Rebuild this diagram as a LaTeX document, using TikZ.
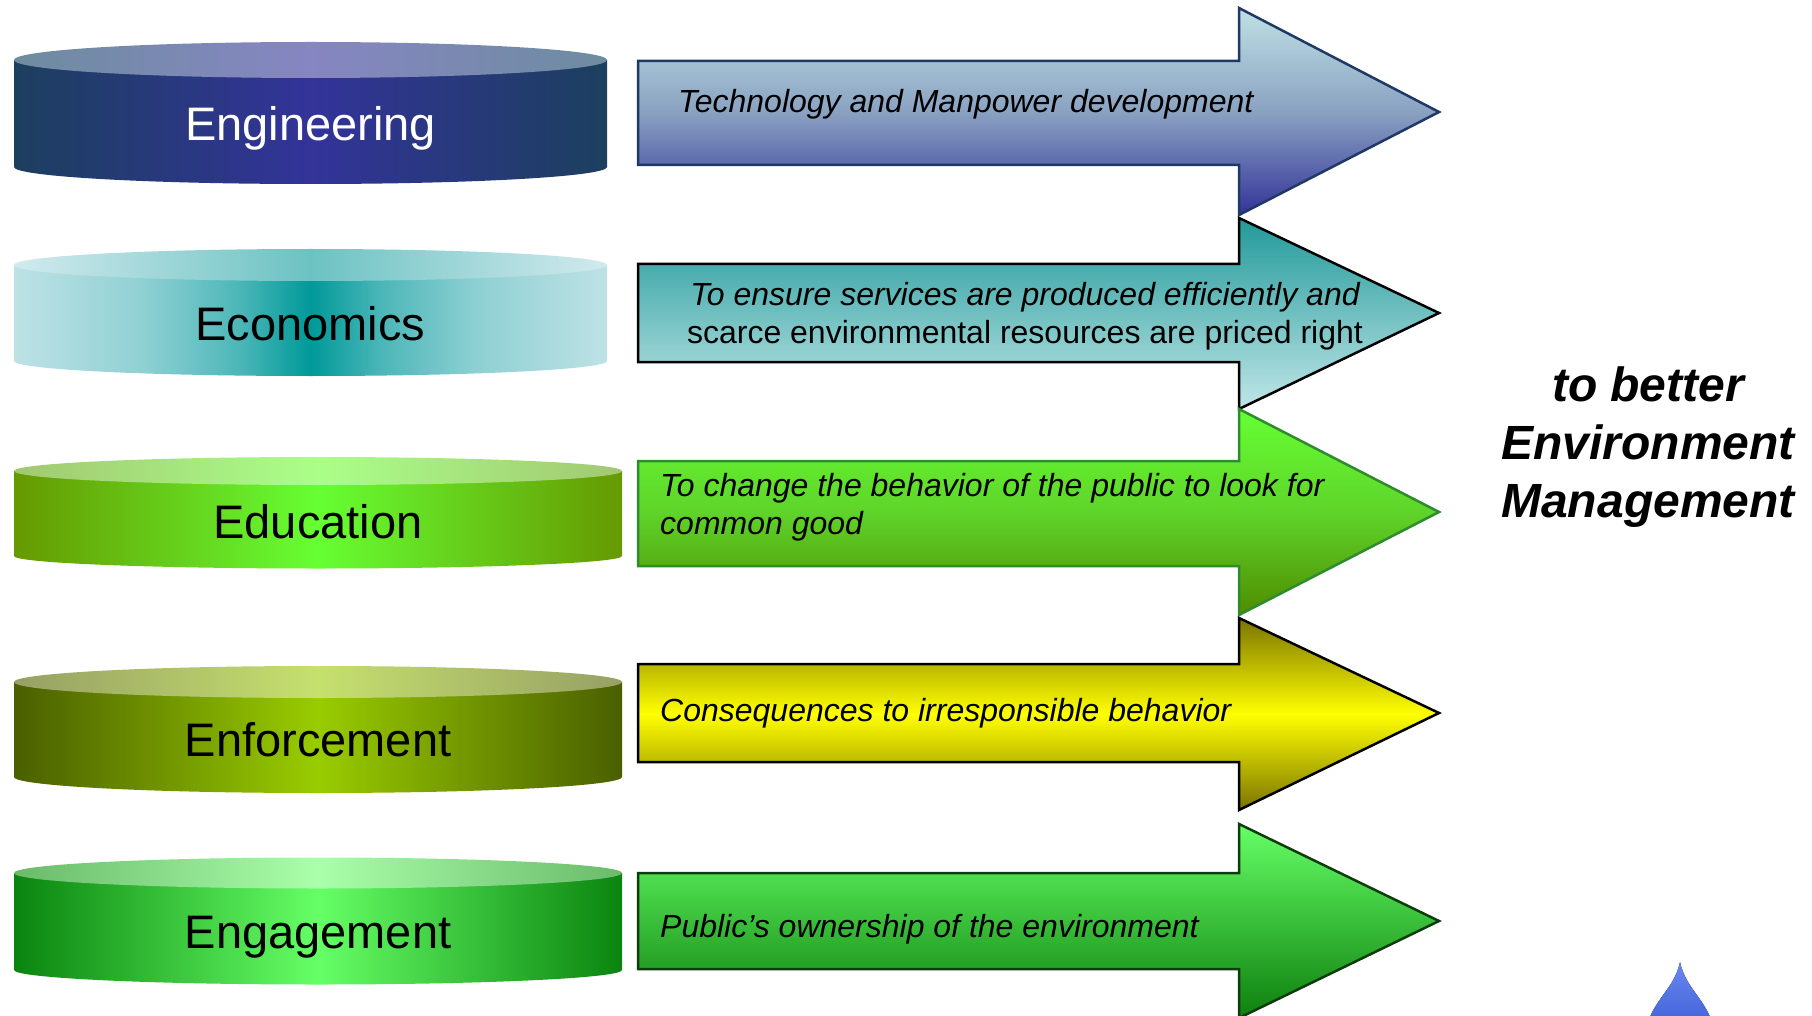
\documentclass[tikz,border=0pt]{standalone}
\usepackage{fontspec}
\setmainfont{Liberation Sans}

% pillar colours: side edge / side middle / lid edge / lid middle
\definecolor{engSideE}{HTML}{1C3F5E}
\definecolor{engSideM}{HTML}{333399}
\definecolor{engTopE}{HTML}{6E8CA0}
\definecolor{engTopM}{HTML}{8686C2}
\definecolor{ecoSideE}{HTML}{BEE2E6}
\definecolor{ecoSideM}{HTML}{009999}
\definecolor{ecoTopE}{HTML}{D2EAEE}
\definecolor{ecoTopM}{HTML}{6CC2C2}
\definecolor{eduSideE}{HTML}{669900}
\definecolor{eduSideM}{HTML}{66FF33}
\definecolor{eduTopE}{HTML}{A2C872}
\definecolor{eduTopM}{HTML}{AAFF88}
\definecolor{enfSideE}{HTML}{4A5F00}
\definecolor{enfSideM}{HTML}{99CC00}
\definecolor{enfTopE}{HTML}{96A064}
\definecolor{enfTopM}{HTML}{C6E06E}
\definecolor{engaSideE}{HTML}{0A840F}
\definecolor{engaSideM}{HTML}{66FF66}
\definecolor{engaTopE}{HTML}{6ABA6A}
\definecolor{engaTopM}{HTML}{AAFFAA}

% arrow colours
\definecolor{arOneTop}{HTML}{BFE1E4}
\definecolor{arOneMid}{HTML}{8AA2C2}
\definecolor{arOneBot}{HTML}{333399}
\definecolor{arOneLine}{HTML}{1F3864}
\definecolor{arTwoTop}{HTML}{229999}
\definecolor{arTwoBot}{HTML}{C0E6E8}
\definecolor{arThreeTop}{HTML}{66FF33}
\definecolor{arThreeMid}{HTML}{5FD42A}
\definecolor{arThreeBot}{HTML}{4F8C00}
\definecolor{arThreeLine}{HTML}{2E8B2E}
\definecolor{arFourEnd}{HTML}{7A7400}
\definecolor{arFourMid}{HTML}{FFFF00}
\definecolor{arFiveTop}{HTML}{66FF66}
\definecolor{arFiveBot}{HTML}{0E7F0E}
\definecolor{arFiveLine}{HTML}{0D3D0D}
\definecolor{dropTop}{HTML}{6A88F0}
\definecolor{dropBot}{HTML}{3F5FD8}

% teal side of the economics drum: dark only in a narrow middle band
\pgfdeclarehorizontalshading{ecoband}{100bp}{%
  color(0bp)=(ecoSideE); color(25bp)=(ecoSideE);
  color(36bp)=(ecoSideE!75!ecoSideM); color(44bp)=(ecoSideE!40!ecoSideM);
  color(50bp)=(ecoSideM);
  color(56bp)=(ecoSideE!40!ecoSideM); color(64bp)=(ecoSideE!75!ecoSideM);
  color(75bp)=(ecoSideE); color(100bp)=(ecoSideE)}

% a shaded drum: centre x, half width, lid y, lid ry, base y, base ry, side style, lid style
\newcommand\drum[8]{%
  \path[#7] (#1-#2,#3) -- (#1-#2,#5)
    arc[start angle=180, end angle=360, x radius=#2pt, y radius=#6pt]
    -- (#1+#2,#3) -- cycle;
  \path[#8] (#1,#3) ellipse[x radius=#2pt, y radius=#4pt];
}

\begin{document}
\begin{tikzpicture}[x=1pt, y=-1pt,
  pillar label/.style={anchor=base, inner sep=0pt, font=\fontsize{47}{56}\selectfont},
  aim text/.style={anchor=base west, inner sep=0pt, font=\fontsize{32}{38}\selectfont\itshape},
  arrow outline/.style={line width=2.5pt, line join=miter},
  engSide/.style={left color=engSideE, right color=engSideE, middle color=engSideM},
  engTop/.style={left color=engTopE, right color=engTopE, middle color=engTopM},
  ecoSide/.style={shading=ecoband},
  ecoTop/.style={left color=ecoTopE, right color=ecoTopE, middle color=ecoTopM},
  eduSide/.style={left color=eduSideE, right color=eduSideE, middle color=eduSideM},
  eduTop/.style={left color=eduTopE, right color=eduTopE, middle color=eduTopM},
  enfSide/.style={left color=enfSideE, right color=enfSideE, middle color=enfSideM},
  enfTop/.style={left color=enfTopE, right color=enfTopE, middle color=enfTopM},
  engaSide/.style={left color=engaSideE, right color=engaSideE, middle color=engaSideM},
  engaTop/.style={left color=engaTopE, right color=engaTopE, middle color=engaTopM},
]
\useasboundingbox[fill=white] (0,0) rectangle (1812,1016);

% ---- pillars ----
\drum{310.5}{296.5}{60}{18}{167}{17}{engSide}{engTop}
\drum{310.5}{296.5}{265}{16}{361}{15}{ecoSide}{ecoTop}
\drum{318}{304}{471}{14}{556}{12.5}{eduSide}{eduTop}
\drum{318}{304}{682}{16}{777}{16}{enfSide}{enfTop}
\drum{318}{304}{873}{15.5}{970}{14.5}{engaSide}{engaTop}

\node[pillar label, text=white] (engineering) at (310.5,141) {Engineering};
\node[pillar label] (economics) at (310.5,340) {Economics};
\node[pillar label] (education) at (318,538) {Education};
\node[pillar label] (enforcement) at (318,756) {Enforcement};
\node[pillar label] (engagement) at (318,948) {Engagement};

% ---- block arrows ----
\draw[arrow outline, draw=arOneLine, top color=arOneTop, bottom color=arOneBot, middle color=arOneMid]
  (638,61) -- (1239,61) -- (1239,8) -- (1439,112) -- (1239,215) -- (1239,165) -- (638,165) -- cycle;
\draw[arrow outline, draw=black, top color=arTwoTop, bottom color=arTwoBot]
  (638,264) -- (1239,264) -- (1239,218) -- (1439,313) -- (1239,409) -- (1239,362) -- (638,362) -- cycle;
\draw[arrow outline, draw=arThreeLine, top color=arThreeTop, bottom color=arThreeBot, middle color=arThreeMid]
  (638,461) -- (1239,461) -- (1239,409) -- (1439,512) -- (1239,615) -- (1239,566) -- (638,566) -- cycle;
\draw[arrow outline, draw=black, top color=arFourEnd, bottom color=arFourEnd, middle color=arFourMid]
  (638,664) -- (1239,664) -- (1239,618) -- (1439,713) -- (1239,810) -- (1239,762) -- (638,762) -- cycle;
\draw[arrow outline, draw=arFiveLine, top color=arFiveTop, bottom color=arFiveBot]
  (638,873) -- (1239,873) -- (1239,824) -- (1439,921) -- (1239,1018) -- (1239,969) -- (638,969) -- cycle;

\node[aim text] (technology) at (678,113) {Technology and Manpower development};
\node[aim text, anchor=base, align=center] (efficiency) at (1025,343)
  {To ensure services are produced efficiently and\\ \upshape scarce environmental resources are priced right};
\node[aim text, align=left] (behaviour) at (660,534)
  {To change the behavior of the public to look for\\common good};
\node[aim text] (consequences) at (660,721) {Consequences to irresponsible behavior};
\node[aim text] (ownership) at (660,937) {Public’s ownership of the environment};

% ---- goal ----
\node[anchor=base, inner sep=0pt, align=center, font=\fontsize{48}{58}\selectfont\bfseries\itshape]
  (goal) at (1648,517) {to better\\Environment\\Management};

% ---- water drop ----
\fill[top color=dropTop, bottom color=dropBot]
  (1646,1030) .. controls (1652,1000) and (1674,990) .. (1680,962)
  .. controls (1686,990) and (1708,1000) .. (1714,1030) -- cycle;
\end{tikzpicture}
\end{document}
